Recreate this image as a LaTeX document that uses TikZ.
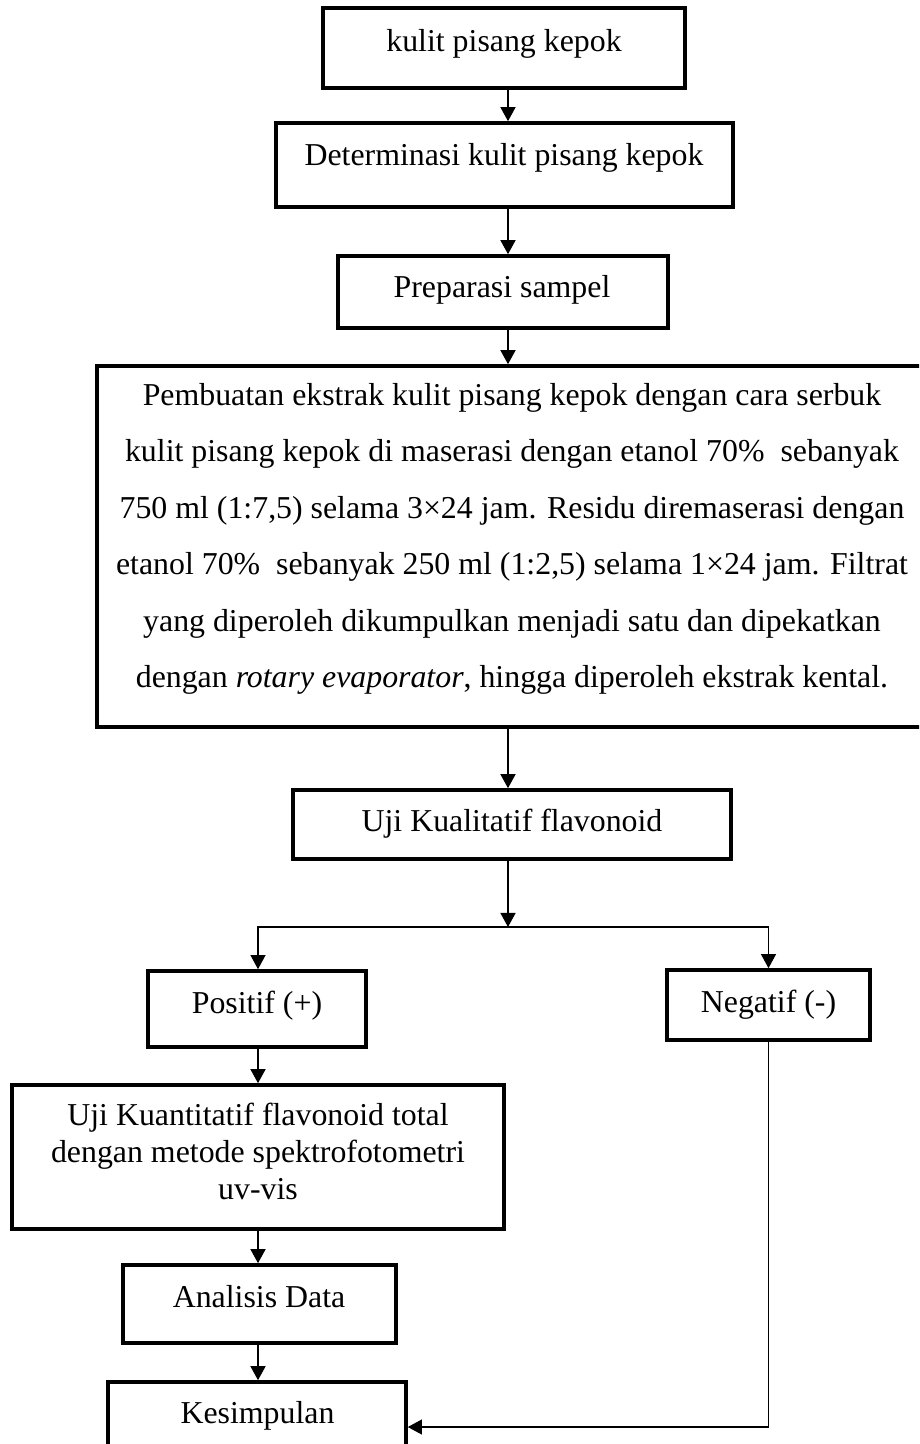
\documentclass[tikz,border=0pt]{standalone}
\usepackage{fontspec}
\setmainfont{Liberation Serif}
\usetikzlibrary{arrows.meta,fit}
\begin{document}
\begin{tikzpicture}[x=0.3768pt,y=-0.3768pt,
  box/.style={draw,line width=1.35pt,inner sep=0pt},
  txt/.style={anchor=base,inner sep=0pt,font=\fontsize{12}{14}\selectfont},
  arr/.style={line width=0.75pt,-{Triangle[width=5.6pt,length=5.3pt]}},
  arrthin/.style={line width=0.5pt,-{Triangle[width=5.6pt,length=5.3pt]}}]
\useasboundingbox (0,0) rectangle (919,1444);
\clip (0,0) rectangle (919,1444);
\fill[white] (0,0) rectangle (919,1444);
% boxes
\node[box,fit={(323,8)(685,88)}] (b1) {};
\node[txt] (t1) at (504,51) {kulit pisang kepok};
\node[box,fit={(276,123)(733,207)}] (b2) {};
\node[txt] (t2) at (504,165) {Determinasi kulit pisang kepok};
\node[box,fit={(338,256)(668,328)}] (b3) {};
\node[txt] (t3) at (502,297) {Preparasi sampel};
\node[box,fit={(97,366)(927,727)}] (b4) {};
\node[txt] (t4a) at (512,405) {Pembuatan ekstrak kulit pisang kepok dengan cara serbuk};
\node[txt] (t4b) at (512,461.5) {kulit pisang kepok di maserasi dengan etanol 70\%\ \ sebanyak};
\node[txt] (t4c) at (512,518) {750 ml (1:7,5) selama 3×24 jam. Residu diremaserasi dengan};
\node[txt] (t4d) at (512,574.5) {etanol 70\%\ \ sebanyak 250 ml (1:2,5) selama 1×24 jam. Filtrat};
\node[txt] (t4e) at (512,631) {yang diperoleh dikumpulkan menjadi satu dan dipekatkan};
\node[txt] (t4f) at (512,687.5) {dengan \textit{rotary evaporator}, hingga diperoleh ekstrak kental.};
\node[box,fit={(293,790)(731,859)}] (b5) {};
\node[txt] (t5) at (512,831) {Uji Kualitatif flavonoid};
\node[box,fit={(148,971)(366,1047)}] (pos) {};
\node[txt] (tpos) at (257,1013) {Positif (+)};
\node[box,fit={(667,970)(870,1040)}] (neg) {};
\node[txt] (tneg) at (768.5,1012) {Negatif (-)};
\node[box,fit={(12,1085)(504,1229)}] (kua) {};
\node[txt] (tk1) at (258,1125) {Uji Kuantitatif flavonoid total};
\node[txt] (tk2) at (258,1162) {dengan metode spektrofotometri};
\node[txt] (tk3) at (258,1199) {uv-vis};
\node[box,fit={(123,1265)(396,1343)}] (ana) {};
\node[txt] (tana) at (259,1307) {Analisis Data};
\node[box,fit={(108,1382)(406,1472)}] (kes) {};
\node[txt] (tkes) at (257.5,1423) {Kesimpulan};
% connectors
\coordinate (sp) at (508,0);
\coordinate (br) at (508,927);
\coordinate (lc) at (258,0);
\draw[arr] (b1.south -| sp) -- (b2.north -| sp);
\draw[arr] (b2.south -| sp) -- (b3.north -| sp);
\draw[arr] (b3.south -| sp) -- (b4.north -| sp);
\draw[arr] (b4.south -| sp) -- (b5.north -| sp);
\draw[arr] (b5.south -| sp) -- (br);
\draw[arrthin] (br) -| (pos.north -| lc);
\draw[arrthin] (br) -| (neg.north);
\draw[arr] (pos.south -| lc) -- (kua.north -| lc);
\draw[arr] (kua.south -| lc) -- (ana.north -| lc);
\draw[arr] (ana.south -| lc) -- (kes.north -| lc);
\draw[arrthin] (neg.south) |- (kes.east);
\end{tikzpicture}
\end{document}
